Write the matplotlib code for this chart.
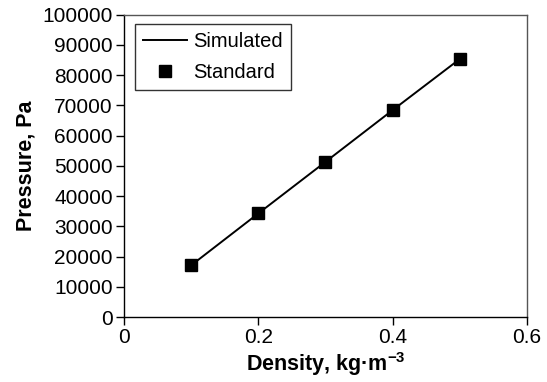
import matplotlib
matplotlib.use("Agg")
from matplotlib import pyplot as plt

# data
density = [0.1, 0.2, 0.3, 0.4, 0.5]
simulated = [17100, 34250, 51300, 68400, 85300]
standard = [17100, 34250, 51300, 68400, 85300]

plt.rcParams['font.family'] = ['Liberation Sans', 'DejaVu Sans']

fig = plt.figure(figsize=(5.47, 3.82), dpi=100)
ax = fig.add_axes([0.2267, 0.170, 0.7367, 0.792])

ax.plot(density, simulated, color='black', linewidth=1.4, label='Simulated')
ax.plot(density, standard, linestyle='none', marker='s', markersize=8,
        color='black', label='Standard')

ax.set_xlim(0, 0.6)
ax.set_ylim(0, 100000)
ax.set_xticks([0, 0.2, 0.4, 0.6])
ax.set_xticklabels(['0', '0.2', '0.4', '0.6'])
ax.set_yticks(range(0, 100001, 10000))
ax.tick_params(direction='out', length=6, width=1, pad=2, labelsize=15, colors='black')
for s in ax.spines.values():
    s.set_linewidth(1)
    s.set_color('#555555')
ax.spines['left'].set_color('black')
ax.spines['bottom'].set_color('black')

ax.set_xlabel('Density, kg·m$^{\\mathregular{-3}}$', fontsize=15.5, fontweight='bold', labelpad=2)
ax.set_ylabel('Pressure, Pa', fontsize=15.5, fontweight='bold', labelpad=4)

leg = ax.legend(loc='upper left', bbox_to_anchor=(0.027, 0.968), borderaxespad=0,
                fontsize=14.5, fancybox=False, framealpha=1, edgecolor='#333333',
                handlelength=2.2, borderpad=0.4, labelspacing=0.6,
                handletextpad=0.3)
leg.get_frame().set_linewidth(1)

plt.savefig("out.png", dpi=100)
